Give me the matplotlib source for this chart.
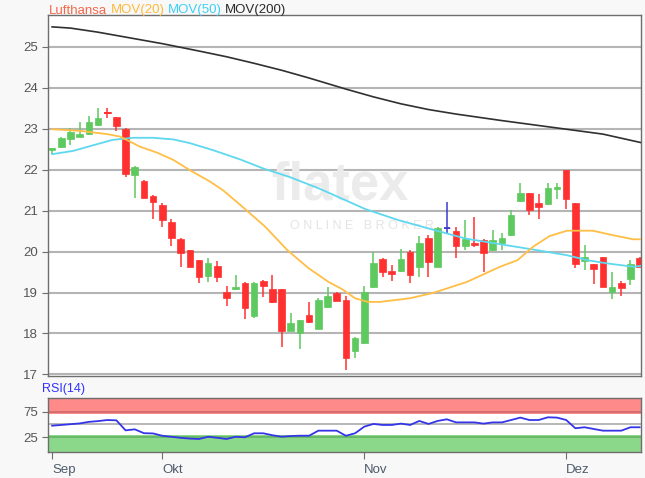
import matplotlib
matplotlib.use('Agg')
import matplotlib.pyplot as plt
import numpy as np

plt.rcParams['font.family'] = ['Liberation Sans', 'DejaVu Sans']

# ---------------- data ----------------
opens = [22.49, 22.56, 22.75, 22.80, 22.87, 23.10, 23.41, 23.29, 23.00, 21.88,
         21.72, 21.35, 21.15, 20.73, 20.30, 20.03, 19.79, 19.40, 19.65, 19.02,
         19.08, 19.23, 18.42, 19.28, 19.08, 19.08, 18.06, 18.02, 18.46, 18.12,
         18.65, 19.00, 18.81, 17.57, 17.77, 19.14, 19.83, 19.52, 19.52, 19.98,
         19.63, 20.34, 19.63, 20.58, 20.50, 20.13, 20.22, 20.28, 20.04, 20.20,
         20.40, 21.24, 21.42, 21.18, 21.16, 21.52, 22.00, 21.18, 19.78, 19.69,
         19.86, 19.02, 19.22, 19.32, 19.85]
highs = [22.53, 22.80, 23.02, 23.17, 23.32, 23.50, 23.50, 23.30, 23.02, 22.08,
         21.75, 21.38, 21.18, 20.80, 20.32, 20.05, 19.80, 19.84, 19.77, 19.16,
         19.43, 19.26, 19.26, 19.30, 19.43, 19.09, 18.50, 18.33, 18.77, 18.86,
         19.14, 19.01, 18.91, 17.91, 19.16, 20.00, 19.85, 19.67, 20.06, 20.05,
         20.38, 20.40, 20.60, 21.22, 20.60, 20.77, 20.85, 20.30, 20.53, 20.45,
         21.01, 21.68, 21.44, 21.40, 21.67, 21.67, 22.00, 21.19, 20.16, 19.70,
         19.87, 19.49, 19.27, 19.79, 19.86]
lows = [22.38, 22.53, 22.60, 22.79, 22.85, 23.08, 23.26, 22.95, 21.82, 21.30,
        21.30, 20.80, 20.60, 20.13, 19.63, 19.62, 19.24, 19.26, 19.26, 18.67,
        19.07, 18.35, 18.37, 18.90, 18.75, 17.67, 18.05, 17.62, 18.25, 18.10,
        18.62, 18.80, 17.10, 17.40, 17.75, 19.12, 19.38, 19.28, 19.50, 19.22,
        19.38, 19.38, 19.62, 20.42, 19.85, 20.05, 20.12, 19.50, 20.02, 20.05,
        20.38, 21.22, 20.89, 20.80, 21.14, 21.28, 21.03, 19.60, 19.55, 19.20,
        19.13, 18.85, 18.91, 19.18, 19.63]
closes = [22.52, 22.78, 22.92, 22.88, 23.17, 23.27, 23.38, 23.07, 21.90, 22.07,
          21.32, 21.22, 20.77, 20.32, 19.96, 19.63, 19.38, 19.72, 19.37, 18.86,
          19.13, 18.62, 19.24, 19.16, 18.76, 18.06, 18.26, 18.32, 18.27, 18.81,
          18.92, 18.80, 17.41, 17.90, 19.02, 19.72, 19.51, 19.45, 19.83, 19.43,
          20.22, 19.75, 20.57, 20.58, 20.14, 20.30, 20.16, 19.97, 20.28, 20.32,
          20.89, 21.42, 21.01, 21.08, 21.56, 21.58, 21.28, 19.69, 19.86, 19.57,
          19.13, 19.14, 19.10, 19.69, 19.63]

mov20_idx = [0, 3, 6, 7.4, 9.6, 11.4, 13.2, 15, 17.2, 18.6, 20.5, 23.2, 25.6, 27.9,
             30.1, 31.6, 33, 34.4, 35.7, 39, 41.5, 45.2, 48.8, 50.7, 52.4, 54.2,
             56.1, 58.9, 61.1, 63.3, 64.2]
mov20_val = [22.99, 22.95, 22.87, 22.81, 22.56, 22.42, 22.24, 21.99, 21.71, 21.50,
             21.14, 20.61, 20.04, 19.60, 19.26, 19.08, 18.86, 18.77, 18.77, 18.86,
             18.99, 19.26, 19.63, 19.79, 20.12, 20.38, 20.51, 20.51, 20.40, 20.30,
             20.30]

mov50_idx = [0, 2.3, 4.5, 6.6, 8.8, 11, 13.2, 15, 17.5, 20.5, 23, 25.9, 29.2, 31.9,
             34.1, 37.7, 41.4, 45, 48.8, 52.4, 56.1, 58.3, 60.5, 63.3, 64.2]
mov50_val = [22.38, 22.46, 22.60, 22.73, 22.78, 22.78, 22.74, 22.65, 22.48, 22.25,
             22.03, 21.82, 21.53, 21.26, 21.04, 20.77, 20.54, 20.32, 20.18, 20.05,
             19.91, 19.79, 19.71, 19.63, 19.65]

mov200_idx = [0, 2, 5, 9, 12, 16, 19, 22, 25, 28, 32, 35, 38, 41, 44, 49, 54, 60, 64.2]
mov200_val = [25.49, 25.46, 25.36, 25.20, 25.08, 24.90, 24.76, 24.60, 24.43, 24.24,
              23.97, 23.78, 23.61, 23.47, 23.36, 23.20, 23.05, 22.87, 22.66]

rsi = [47.6, 49.0, 50.5, 52.0, 55.0, 56.5, 58.6, 58.0, 38.5, 40.5,
       33.0, 32.5, 28.0, 26.0, 24.0, 22.5, 21.7, 26.0, 24.0, 21.7,
       26.0, 25.0, 32.8, 32.8, 29.0, 26.2, 27.5, 28.1, 28.1, 37.9,
       37.9, 37.9, 28.0, 32.8, 45.7, 51.0, 49.0, 49.0, 51.6, 49.0,
       56.8, 51.0, 56.8, 60.0, 54.0, 54.0, 54.0, 51.6, 54.0, 54.0,
       58.6, 63.3, 58.6, 58.6, 63.9, 63.3, 58.6, 42.6, 44.5, 41.2,
       37.9, 37.9, 37.9, 44.5, 44.5]

month_idx = [0, 12, 34, 56]
month_labels = ['Sep', 'Okt', 'Nov', 'Dez']
price_ticks = [17, 18, 19, 20, 21, 22, 23, 24, 25]
rsi_ticks = [25, 75]

# ---------------- figure ----------------
W, H = 645, 478
fig = plt.figure(figsize=(W / 100, H / 100), dpi=100, facecolor='#f8f8f8')
ax = fig.add_axes([48 / W, 1 - 376 / H, (641 - 48) / W, (376 - 15) / H])
ax2 = fig.add_axes([48 / W, 1 - 451.7 / H, (641 - 48) / W, (451.7 - 397.7) / H])

GREEN = '#5ec95e'
RED = '#ff3030'
BLUE = '#3b3bd0'
SPINE = '#6e6e6e'
TICKC = '#555555'

x = np.arange(len(closes))
o = np.array(opens); c = np.array(closes); h = np.array(highs); l = np.array(lows)
cols = [GREEN if cc > oo else (RED if cc < oo else BLUE) for oo, cc in zip(o, c)]

ax.set_facecolor('white')
for p in price_ticks:
    ax.axhline(p, color='#b5b5b5', lw=1.5, zorder=1)

# watermark
ax.text(31.4, 21.62, 'flatex', fontsize=38, fontweight='bold', color='#ebebeb',
        ha='center', va='center', zorder=1.5)
ax.text(33.8, 20.62, 'O N L I N E   B R O K E R', fontsize=9, color='#e4e4e4',
        ha='center', va='center', zorder=1.5)

# candles
ax.vlines(x, l, h, colors=cols, lw=1.1, zorder=3)
bw = 0.72
body_bottom = np.minimum(o, c)
body_h = np.abs(c - o)
ax.bar(x, body_h, bw, bottom=body_bottom, color=cols, edgecolor=cols, lw=0.5, zorder=4)
for xi, oo, cc, col in zip(x, o, c, cols):
    if abs(cc - oo) < 0.04:
        ax.hlines((oo + cc) / 2, xi - bw / 2, xi + bw / 2, colors=col, lw=1.3, zorder=4)

# moving averages
ax.plot(mov200_idx, mov200_val, color='#303030', lw=1.2, zorder=5)
ax.plot(mov50_idx, mov50_val, color='#5fd8ef', lw=1.3, zorder=5)
ax.plot(mov20_idx, mov20_val, color='#ffbe45', lw=1.3, zorder=5)

ax.set_xlim(-0.45, 64.15)
ax.set_ylim(16.96, 25.78)
ax.set_yticks(price_ticks)
ax.set_yticklabels([str(p) for p in price_ticks])
ax.set_xticks([])
ax.tick_params(axis='y', length=4, color=SPINE, labelcolor=TICKC, labelsize=9.5, pad=3)
for s in ax.spines.values():
    s.set_color(SPINE)
    s.set_linewidth(1.0)

# ---------------- RSI panel ----------------
ax2.set_facecolor('white')
ax2.axhspan(70, 105, color='#ff8a8a', zorder=1, lw=0)
ax2.axhspan(-5, 30, color='#8bd88b', zorder=1, lw=0)
ax2.axhline(75, color='#cc6a6a', lw=1.2, zorder=2)
ax2.axhline(25, color='#62b462', lw=1.2, zorder=2)
ax2.axhline(50, color='#aaaaaa', lw=1.2, zorder=2)
ax2.plot(x, rsi, color='#3535e8', lw=1.3, zorder=3)
ax2.set_xlim(-0.45, 64.15)
ax2.set_ylim(-3, 102)
ax2.set_yticks(rsi_ticks)
ax2.set_yticklabels([str(t) for t in rsi_ticks])
ax2.set_xticks(month_idx)
ax2.set_xticklabels(month_labels, ha='left')
ax2.tick_params(axis='y', length=4, color=SPINE, labelcolor=TICKC, labelsize=9.5, pad=3)
ax2.tick_params(axis='x', length=5, color=SPINE, labelcolor='#4d5b6a', labelsize=9.5, pad=4)
for s in ax2.spines.values():
    s.set_color(SPINE)
    s.set_linewidth(1.0)

fig.text(42 / W, 1 - 389 / H, 'RSI(14)', color='#3030ff', fontsize=9, va='center', ha='left')

# ---------------- title legend ----------------
renderer = fig.canvas.get_renderer()
xpos = 49 / W
ybase = 1 - 13.5 / H
for txt, col in [('Lufthansa', '#f5684a'), ('MOV(20)', '#ffba3c'),
                 ('MOV(50)', '#3fcff5'), ('MOV(200)', '#2a2a2a')]:
    t = fig.text(xpos, ybase, txt, color=col, fontsize=9.5, va='baseline', ha='left')
    bb = t.get_window_extent(renderer=renderer)
    xpos = (bb.x1 + 3.5) / W

fig.savefig('out.png', dpi=100, facecolor=fig.get_facecolor())
